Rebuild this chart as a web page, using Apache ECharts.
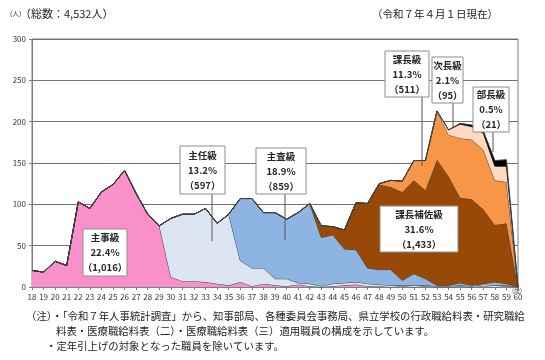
<!DOCTYPE html>
<html><head><meta charset="utf-8">
<script src="https://cdn.jsdelivr.net/npm/echarts@6/dist/echarts.min.js"></script>
<style>html,body{margin:0;padding:0;background:#fff;}#c{width:545px;height:360px;}</style>
</head><body><div id="c"></div>
<script>
var ages = [];
for (var a = 18; a <= 60; a++) ages.push(String(a));
var yTicks = [0, 50, 100, 150, 200, 250, 300];
// ages 18..60
var shuji    = [20,18,31,26,103,95,115,124,141,113,88,74,12,7,7,6,4,2,6,1,4,2,1,3,1,0,1,2,3,1,1,0,1,0,1,0,0,1,0,1,0,1,0];
var shunin   = [0,0,0,0,0,0,0,0,0,0,0,0,71,81,81,89,73,86,26,22,19,8,9,2,3,1,3,3,3,3,2,2,1,2,1,1,1,1,1,2,2,1,0];
var shusa    = [0,0,0,0,0,0,0,0,0,0,0,0,0,0,0,0,0,0,75,84,67,80,72,85,97,59,59,41,39,19,18,19,6,14,8,1,1,3,1,1,4,2,0];
var kachohosa= [0,0,0,0,0,0,0,0,0,0,0,0,0,0,0,0,0,0,0,0,0,0,0,0,0,14,10,23,57,78,103,100,107,113,107,152,132,103,104,90,69,73,0];
var kacho    = [0,0,0,0,0,0,0,0,0,0,0,0,0,0,0,0,0,0,0,0,0,0,0,0,0,0,0,0,0,0,1,8,13,24,36,59,50,72,72,72,54,50,0];
var jicho    = [0,0,0,0,0,0,0,0,0,0,0,0,0,0,0,0,0,0,0,0,0,0,0,0,0,0,0,0,0,0,0,0,0,0,0,0,6,17,16,20,17,19,0];
var bucho    = [0,0,0,0,0,0,0,0,0,0,0,0,0,0,0,0,0,0,0,0,0,0,0,0,0,0,0,0,0,0,0,0,0,0,0,0,0,1,2,3,7,8,0];

var names = ['主事級','主任級','主査級','課長補佐級','課長級','次長級','部長級'];
var values = [shuji, shunin, shusa, kachohosa, kacho, jicho, bucho];
var colors = ['#fa90c9','#dce6f2','#8db4e2','#984807','#f79646','#fcd9bf','#000000'];

var FONT = '"Noto Sans CJK JP", "Noto Sans", sans-serif';
var chart = echarts.init(document.getElementById('c'));

function box(x, y, w, h, lines, lead) {
  var els = [{type:'rect', shape:{x:x, y:y, width:w, height:h},
    style:{fill:'#fff', stroke:'#8c8c8c', lineWidth:1}, z:100}];
  els.push({type:'text', style:{x:x+w/2, y:y+h/2, text:lines.join('\n'), textAlign:'center', textVerticalAlign:'middle',
    fill:'#262626', font:'bold 9.5px ' + FONT, lineHeight:15, rich:{}}, z:101});
  if (lead) els.unshift({type:'line', shape:{x1:lead[0], y1:y+h, x2:lead[0], y2:lead[1]}, style:{stroke:'#555', lineWidth:1}, z:99});
  return els;
}

var graphics = [
  {type:'text', style:{x:6, y:14, text:'（人）', font:'6.5px ' + FONT, fill:'#333', textVerticalAlign:'middle'}},
  {type:'text', style:{x:20, y:14, text:'（総数：4,532人）', font:'11px ' + FONT, fill:'#222', textVerticalAlign:'middle'}},
  {type:'text', style:{x:372, y:14, text:'（令和７年４月１日現在）', font:'10.5px ' + FONT, fill:'#222', textVerticalAlign:'middle'}},
  {type:'text', style:{x:512, y:291, text:'(歳)', font:'6px ' + FONT, fill:'#333', textVerticalAlign:'middle'}},
  {type:'text', style:{x:26, y:316, text:'（注）・「令和７年人事統計調査」から、知事部局、各種委員会事務局、県立学校の行政職給料表・研究職給', font:'10.4px ' + FONT, fill:'#222', textVerticalAlign:'middle'}},
  {type:'text', style:{x:56, y:331, text:'料表・医療職給料表（二）・医療職給料表（三）適用職員の構成を示しています。', font:'10.4px ' + FONT, fill:'#222', textVerticalAlign:'middle'}},
  {type:'text', style:{x:46, y:346, text:'・定年引上げの対象となった職員を除いています。', font:'10.4px ' + FONT, fill:'#222', textVerticalAlign:'middle'}}
];
graphics = graphics
  .concat(box(83, 229, 44, 47, ['主事級','22.4%','（1,016）']))
  .concat(box(180, 146, 45, 48, ['主任級','13.2%','（597）'], [212, 241]))
  .concat(box(256, 148, 50, 46, ['主査級','18.9%','（859）'], [285, 240]))
  .concat(box(380, 206, 78, 46, ['課長補佐級','31.6%','（1,433）']))
  .concat(box(385, 51, 44, 46, ['課長級','11.3%','（511）'], [422, 166]))
  .concat(box(432, 57, 31, 46, ['次長級','2.1%','（95）'], [453, 127]))
  .concat(box(473, 87, 36, 45, ['部長級','0.5%','（21）'], [493, 152]));

var series = names.map(function(n, i){
  return {name:n, type:'line', stack:'total', data:values[i], showSymbol:false, symbol:'none',
    lineStyle:{color:'#3f3f3f', width:1}, areaStyle:{color:colors[i], opacity:1}, itemStyle:{color:colors[i]},
    emphasis:{disabled:true}, z:2+i};
});

chart.setOption({
  animation:false,
  grid:{left:32, right:27, top:39, bottom:73, show:true, borderColor:'#7f7f7f', borderWidth:1},
  xAxis:{type:'category', data:ages, boundaryGap:false,
    axisLine:{lineStyle:{color:'#7f7f7f'}}, axisTick:{show:true, length:3, lineStyle:{color:'#7f7f7f'}},
    axisLabel:{interval:0, fontSize:8, color:'#333', margin:6, fontFamily:FONT}},
  yAxis:{type:'value', min:yTicks[0], max:yTicks[yTicks.length-1], interval:50,
    axisLine:{show:true, lineStyle:{color:'#7f7f7f'}}, axisTick:{show:true, length:3, lineStyle:{color:'#7f7f7f'}},
    axisLabel:{fontSize:8, color:'#333', margin:6, fontFamily:FONT},
    splitLine:{lineStyle:{color:'#6f6f6f', width:1}}},
  series:series,
  graphic:graphics
});
</script></body></html>
